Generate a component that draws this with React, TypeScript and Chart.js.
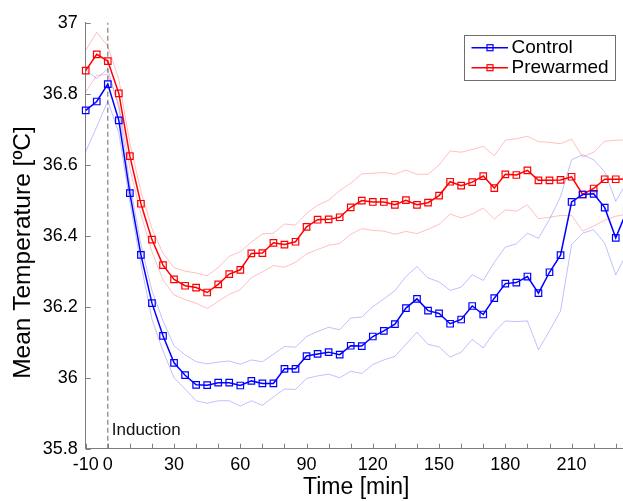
import React, { useEffect, useRef } from 'react';
import { Chart, registerables } from 'chart.js';

Chart.register(...registerables);

// Time after induction (min)
const minutes = [-10, -5, 0, 5, 10, 15, 20, 25, 30, 35, 40, 45, 50, 55, 60, 65, 70, 75, 80, 85, 90, 95, 100, 105, 110, 115, 120, 125, 130, 135, 140, 145, 150, 155, 160, 165, 170, 175, 180, 185, 190, 195, 200, 205, 210, 215, 220, 225, 230, 235];

const controlMean = [36.753, 36.778, 36.827, 36.725, 36.52, 36.346, 36.21, 36.118, 36.042, 36.007, 35.98, 35.979, 35.986, 35.986, 35.978, 35.991, 35.984, 35.984, 36.025, 36.025, 36.061, 36.067, 36.072, 36.065, 36.09, 36.089, 36.116, 36.132, 36.151, 36.196, 36.222, 36.189, 36.181, 36.152, 36.164, 36.202, 36.178, 36.224, 36.265, 36.268, 36.285, 36.238, 36.297, 36.345, 36.495, 36.516, 36.518, 36.479, 36.394, 36.47];
const controlUpper = [36.866, 36.843, 36.87, 36.76, 36.545, 36.375, 36.245, 36.16, 36.09, 36.064, 36.045, 36.039, 36.044, 36.047, 36.038, 36.05, 36.045, 36.066, 36.088, 36.086, 36.116, 36.13, 36.142, 36.135, 36.168, 36.171, 36.2, 36.222, 36.245, 36.285, 36.313, 36.281, 36.27, 36.246, 36.255, 36.29, 36.274, 36.325, 36.368, 36.377, 36.407, 36.393, 36.446, 36.51, 36.614, 36.628, 36.614, 36.58, 36.497, 36.55];
const controlLower = [36.637, 36.707, 36.779, 36.69, 36.495, 36.32, 36.165, 36.075, 36.0, 35.968, 35.935, 35.928, 35.935, 35.935, 35.92, 35.935, 35.922, 35.946, 35.968, 35.967, 35.998, 36.005, 36.01, 36.0, 36.018, 36.012, 36.037, 36.05, 36.06, 36.094, 36.128, 36.094, 36.087, 36.058, 36.072, 36.108, 36.084, 36.128, 36.16, 36.158, 36.16, 36.079, 36.132, 36.188, 36.375, 36.407, 36.417, 36.379, 36.29, 36.35];

const prewarmedMean = [36.865, 36.911, 36.892, 36.801, 36.624, 36.49, 36.389, 36.317, 36.277, 36.259, 36.254, 36.24, 36.263, 36.292, 36.304, 36.35, 36.351, 36.38, 36.375, 36.383, 36.425, 36.445, 36.446, 36.452, 36.48, 36.499, 36.495, 36.495, 36.487, 36.5, 36.487, 36.493, 36.513, 36.552, 36.541, 36.551, 36.568, 36.534, 36.573, 36.571, 36.584, 36.556, 36.556, 36.557, 36.566, 36.516, 36.533, 36.559, 36.559, 36.56];
const prewarmedUpper = [36.922, 36.973, 36.934, 36.84, 36.66, 36.525, 36.42, 36.35, 36.31, 36.3, 36.295, 36.287, 36.31, 36.342, 36.355, 36.382, 36.405, 36.407, 36.433, 36.43, 36.463, 36.486, 36.5, 36.527, 36.548, 36.574, 36.576, 36.578, 36.573, 36.585, 36.573, 36.573, 36.599, 36.639, 36.635, 36.643, 36.652, 36.625, 36.669, 36.673, 36.68, 36.665, 36.663, 36.659, 36.672, 36.622, 36.635, 36.666, 36.669, 36.67];
const prewarmedLower = [36.805, 36.852, 36.854, 36.77, 36.59, 36.46, 36.355, 36.275, 36.233, 36.22, 36.21, 36.195, 36.215, 36.235, 36.248, 36.282, 36.298, 36.316, 36.311, 36.325, 36.349, 36.361, 36.373, 36.378, 36.404, 36.42, 36.415, 36.413, 36.404, 36.412, 36.406, 36.418, 36.432, 36.461, 36.45, 36.461, 36.478, 36.447, 36.473, 36.469, 36.487, 36.448, 36.452, 36.457, 36.457, 36.413, 36.427, 36.444, 36.455, 36.46];

const seriesNames = ['Control', 'Prewarmed'];
const xTicks = [-10, 0, 10, 20, 30, 40, 50, 60, 70, 80, 90, 100, 110, 120, 130, 140, 150, 160, 170, 180, 190, 200, 210, 220, 230];
const xLabelled = [-10, 0, 30, 60, 90, 120, 150, 180, 210];
const yTicks = [35.8, 36, 36.2, 36.4, 36.6, 36.8, 37];
const inductionTime = 0;
const inductionLabel = 'Induction';
const xTitle = 'Time [min]';
const yTitle = 'Mean Temperature [ºC]';

const FONT = "'Liberation Sans', Arial, Helvetica, sans-serif";
const AXIS = '#7f7f7f';
const BLUE = '#0000ff';
const RED = '#ff0000';
const BLUE_BAND = 'rgba(0,0,255,0.25)';
const RED_BAND = 'rgba(255,0,0,0.25)';

export default function App() {
  const ref = useRef<HTMLCanvasElement>(null);

  useEffect(() => {
    if (!ref.current) return;
    const toXY = (arr: number[]) => minutes.map((m, i) => ({ x: m, y: arr[i] }));

    const band = (label: string, arr: number[], color: string) => ({
      label,
      data: toXY(arr),
      borderColor: color,
      borderWidth: 1,
      pointRadius: 0,
      fill: false,
      tension: 0,
      order: 3,
      clip: false as any,
    });
    const main = (label: string, arr: number[], color: string) => ({
      label,
      data: toXY(arr),
      borderColor: color,
      backgroundColor: 'rgba(0,0,0,0)',
      borderWidth: 1.5,
      pointStyle: 'rect',
      pointRadius: 4.6,
      pointBorderWidth: 1.2,
      pointBorderColor: color,
      pointBackgroundColor: 'rgba(0,0,0,0)',
      fill: false,
      tension: 0,
      order: 1,
      clip: false as any,
    });

    const overlay = {
      id: 'overlay',
      beforeDatasetsDraw(chart: any) {
        const { ctx, chartArea, scales } = chart;
        const x = scales.x.getPixelForValue(inductionTime);
        ctx.save();
        ctx.strokeStyle = '#808080';
        ctx.lineWidth = 1.2;
        ctx.setLineDash([5, 3]);
        ctx.beginPath();
        ctx.moveTo(x, chartArea.bottom);
        ctx.lineTo(x, chartArea.top);
        ctx.stroke();
        ctx.setLineDash([]);
        ctx.fillStyle = '#111';
        ctx.font = `17px ${FONT}`;
        ctx.textBaseline = 'middle';
        ctx.textAlign = 'left';
        ctx.fillText(inductionLabel, x + 4, chartArea.bottom - 18.5);
        ctx.restore();
      },
      afterDraw(chart: any) {
        const { ctx, chartArea, scales } = chart;
        ctx.save();
        // inward tick marks
        ctx.strokeStyle = AXIS;
        ctx.lineWidth = 1;
        ctx.beginPath();
        xTicks.forEach((v) => {
          const px = Math.round(scales.x.getPixelForValue(v)) + 0.5;
          ctx.moveTo(px, chartArea.bottom);
          ctx.lineTo(px, chartArea.bottom - 5);
        });
        yTicks.forEach((v) => {
          const py = Math.round(scales.y.getPixelForValue(v)) + 0.5;
          ctx.moveTo(chartArea.left, py);
          ctx.lineTo(chartArea.left + 5, py);
        });
        ctx.stroke();

        // y-axis title
        ctx.save();
        ctx.translate(23, 252.5);
        ctx.rotate(-Math.PI / 2);
        ctx.fillStyle = '#000';
        ctx.font = `24.5px ${FONT}`;
        ctx.textAlign = 'center';
        ctx.textBaseline = 'middle';
        ctx.fillText(yTitle, 0, 0);
        ctx.restore();

        // legend
        const bx = 464.5, by = 35.5, bw = 151, bh = 45;
        ctx.fillStyle = '#ffffff';
        ctx.fillRect(bx, by, bw, bh);
        ctx.strokeStyle = '#6f6f6f';
        ctx.lineWidth = 1;
        ctx.strokeRect(bx, by, bw, bh);
        const rows = [
          { name: seriesNames[0], color: BLUE, y: 47.7 },
          { name: seriesNames[1], color: RED, y: 67.7 },
        ];
        rows.forEach((r) => {
          ctx.strokeStyle = r.color;
          ctx.lineWidth = 1.5;
          ctx.beginPath();
          ctx.moveTo(471.5, r.y);
          ctx.lineTo(508, r.y);
          ctx.stroke();
          ctx.lineWidth = 1.2;
          ctx.strokeRect(490 - 3, r.y - 3, 6, 6);
          ctx.fillStyle = '#000';
          ctx.font = `19px ${FONT}`;
          ctx.textBaseline = 'middle';
          ctx.textAlign = 'left';
          ctx.fillText(r.name, 511.5, r.y + 0.5);
        });
        ctx.restore();
      },
    };

    const chart = new Chart(ref.current, {
      type: 'line',
      data: {
        datasets: [
          main(seriesNames[0], controlMean, BLUE),
          main(seriesNames[1], prewarmedMean, RED),
          band(seriesNames[0] + ' upper', controlUpper, BLUE_BAND),
          band(seriesNames[0] + ' lower', controlLower, BLUE_BAND),
          band(seriesNames[1] + ' upper', prewarmedUpper, RED_BAND),
          band(seriesNames[1] + ' lower', prewarmedLower, RED_BAND),
        ] as any,
      },
      options: {
        animation: false,
        responsive: false,
        devicePixelRatio: 1,
        layout: { padding: { top: 22.7, right: 13.2, left: 0, bottom: 0 } },
        plugins: { legend: { display: false }, tooltip: { enabled: false } },
        scales: {
          x: {
            type: 'linear',
            min: -10,
            max: 235,
            afterBuildTicks: (scale: any) => {
              scale.ticks = xTicks.map((v) => ({ value: v }));
            },
            afterFit: (scale: any) => {
              scale.height = 52.3;
            },
            grid: { display: false, drawTicks: false },
            border: { display: true, color: AXIS, width: 1 },
            ticks: {
              autoSkip: false,
              maxRotation: 0,
              padding: 6,
              color: '#000',
              font: { family: FONT, size: 18 },
              callback: (v: any) => (xLabelled.includes(Number(v)) ? String(v) : ''),
            },
            title: {
              display: true,
              text: xTitle,
              color: '#000',
              font: { family: FONT, size: 23 },
              padding: { top: 0, bottom: 0 },
            },
          },
          y: {
            type: 'linear',
            min: 35.8,
            max: 37,
            afterBuildTicks: (scale: any) => {
              scale.ticks = yTicks.map((v) => ({ value: v }));
            },
            afterFit: (scale: any) => {
              scale.width = 85.7;
            },
            grid: { display: false, drawTicks: false },
            border: { display: true, color: AXIS, width: 1 },
            ticks: {
              padding: 8,
              color: '#000',
              font: { family: FONT, size: 18 },
              callback: (v: any) => String(Number(Number(v).toFixed(1))),
            },
            title: { display: false },
          },
        },
      },
      plugins: [overlay],
    } as any);

    return () => chart.destroy();
  }, []);

  return (
    <div
      style={{
        position: 'fixed',
        left: 0,
        top: 0,
        width: 623,
        height: 501,
        overflow: 'hidden',
        background: '#fff',
      }}
    >
      <canvas ref={ref} width={640} height={501} style={{ display: 'block', width: 640, height: 501 }} />
    </div>
  );
}
